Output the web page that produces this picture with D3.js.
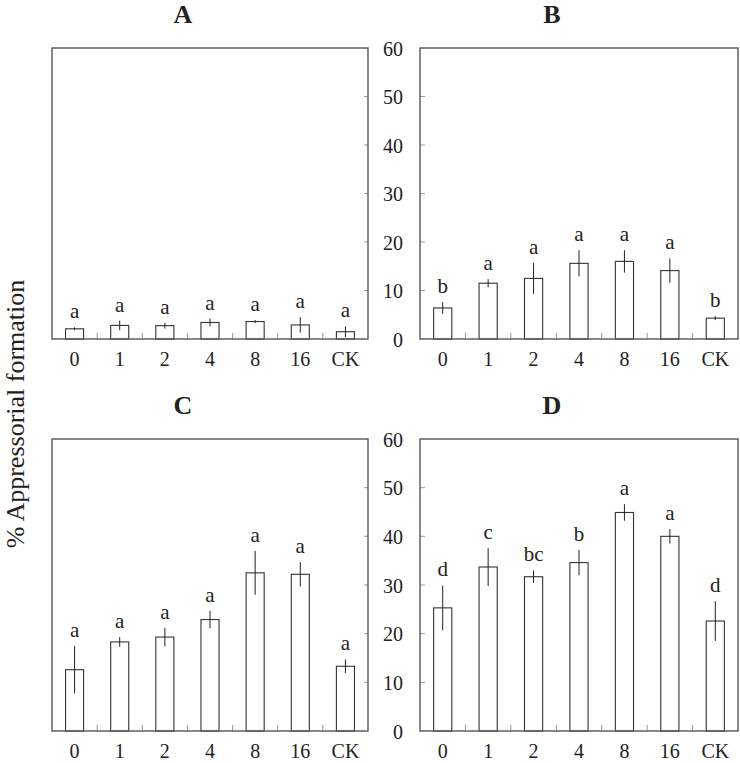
<!DOCTYPE html>
<html>
<head>
<meta charset="utf-8">
<script src="https://cdnjs.cloudflare.com/ajax/libs/d3/7.8.5/d3.min.js"></script>
<style>
  html, body { margin: 0; padding: 0; background: #fff; }
  svg { display: block; }
  text { font-family: "Liberation Serif", "Times New Roman", serif; fill: #222; }
</style>
</head>
<body>
<svg id="chart" width="740" height="763"></svg>
<script>
// ---- Data ----
const categories = ["0", "1", "2", "4", "8", "16", "CK"];
const yTicks = [0, 10, 20, 30, 40, 50, 60];
const panelTitles = ["A", "B", "C", "D"];

const valuesA = [2.1, 2.8, 2.75, 3.4, 3.6, 2.9, 1.5];
const errorsA = [0.3, 1.0, 0.6, 0.8, 0.3, 1.6, 1.1];
const lettersA = ["a", "a", "a", "a", "a", "a", "a"];

const valuesB = [6.4, 11.5, 12.5, 15.6, 16.0, 14.1, 4.3];
const errorsB = [1.2, 0.85, 3.2, 2.7, 2.3, 2.5, 0.4];
const lettersB = ["b", "a", "a", "a", "a", "a", "b"];

const valuesC = [12.6, 18.3, 19.3, 22.9, 32.5, 32.2, 13.3];
const errorsC = [4.9, 1.0, 1.9, 1.8, 4.5, 2.5, 1.4];
const lettersC = ["a", "a", "a", "a", "a", "a", "a"];

const valuesD = [25.3, 33.7, 31.7, 34.6, 44.9, 40.0, 22.6];
const errorsD = [4.6, 3.9, 1.3, 2.6, 1.7, 1.5, 4.1];
const lettersD = ["d", "c", "bc", "b", "a", "a", "d"];

const yLabel = "% Appressorial formation";

// ---- Layout ----
const svg = d3.select("#chart");
const panels = [
  { title: panelTitles[0], values: valuesA, errors: errorsA, letters: lettersA, x0: 52,  x1: 368, y0: 48,  y1: 339, showY: false },
  { title: panelTitles[1], values: valuesB, errors: errorsB, letters: lettersB, x0: 420, x1: 738, y0: 48,  y1: 339, showY: true },
  { title: panelTitles[2], values: valuesC, errors: errorsC, letters: lettersC, x0: 52,  x1: 368, y0: 439, y1: 731, showY: false },
  { title: panelTitles[3], values: valuesD, errors: errorsD, letters: lettersD, x0: 420, x1: 738, y0: 439, y1: 731, showY: true }
];

panels.forEach(p => {
  const g = svg.append("g");
  const x = d3.scaleBand().domain(categories).range([p.x0, p.x1]).paddingInner(0).paddingOuter(0);
  const y = d3.scaleLinear().domain([0, 60]).range([p.y1, p.y0]);
  const barW = x.bandwidth() * 0.4;

  // interior x ticks (between categories)
  const between = categories.slice(1).map(c => x(c));
  g.selectAll(".xt").data(between).enter().append("line")
    .attr("x1", d => d).attr("x2", d => d)
    .attr("y1", p.y1).attr("y2", p.y1 - 6)
    .attr("stroke", "#999").attr("stroke-width", 1);

  // y ticks: inward on left for shown axis, inward on right for others
  const tickVals = yTicks.slice(1, -1);
  g.selectAll(".yt").data(tickVals).enter().append("line")
    .attr("x1", p.showY ? p.x0 : p.x1)
    .attr("x2", p.showY ? p.x0 + 5 : p.x1 - 4)
    .attr("y1", d => y(d)).attr("y2", d => y(d))
    .attr("stroke", "#999").attr("stroke-width", 1);

  // bars
  g.selectAll(".bar").data(p.values).enter().append("rect")
    .attr("x", (d, i) => x(categories[i]) + (x.bandwidth() - barW) / 2)
    .attr("y", d => y(d))
    .attr("width", barW)
    .attr("height", d => p.y1 - y(d))
    .attr("fill", "#fff").attr("stroke", "#333").attr("stroke-width", 1.1);

  // error bars
  g.selectAll(".err").data(p.values).enter().append("line")
    .attr("x1", (d, i) => x(categories[i]) + x.bandwidth() / 2)
    .attr("x2", (d, i) => x(categories[i]) + x.bandwidth() / 2)
    .attr("y1", (d, i) => y(d + p.errors[i]))
    .attr("y2", (d, i) => y(Math.max(0, d - p.errors[i])))
    .attr("stroke", "#222").attr("stroke-width", 1);

  // letters
  g.selectAll(".let").data(p.values).enter().append("text")
    .attr("x", (d, i) => x(categories[i]) + x.bandwidth() / 2)
    .attr("y", (d, i) => y(d + p.errors[i]) - 9)
    .attr("text-anchor", "middle")
    .attr("font-size", 21)
    .text((d, i) => p.letters[i]);

  // frame
  g.append("rect")
    .attr("x", p.x0).attr("y", p.y0)
    .attr("width", p.x1 - p.x0).attr("height", p.y1 - p.y0)
    .attr("fill", "none").attr("stroke", "#555").attr("stroke-width", 1.4);

  // x labels
  const xAxis = d3.axisBottom(x).tickSize(0).tickPadding(0);
  const xa = g.append("g").attr("transform", `translate(0,${p.y1})`).call(xAxis);
  xa.select(".domain").remove();
  xa.selectAll("text")
    .attr("y", 27).attr("dy", 0)
    .attr("font-size", 20)
    .style("font-family", '"Liberation Serif", "Times New Roman", serif')
    .attr("fill", "#222");

  // y labels
  if (p.showY) {
    const yAxis = d3.axisLeft(y).tickValues(yTicks).tickSize(0).tickPadding(0);
    const ya = g.append("g").attr("transform", `translate(${p.x0},0)`).call(yAxis);
    ya.select(".domain").remove();
    ya.selectAll("text")
      .attr("x", -17).attr("dy", "0.35em")
      .attr("font-size", 20)
      .style("font-family", '"Liberation Serif", "Times New Roman", serif')
      .attr("fill", "#222");
  }

  // title
  g.append("text")
    .attr("x", (p.x0 + p.x1) / 2 - 27)
    .attr("y", p.y0 - 25)
    .attr("text-anchor", "middle")
    .attr("font-size", 26)
    .attr("font-weight", "bold")
    .attr("fill", "#111")
    .text(p.title);
});

// shared y-axis label
svg.append("text")
  .attr("transform", "translate(24,414) rotate(-90)")
  .attr("text-anchor", "middle")
  .attr("font-size", 26)
  .text(yLabel);
</script>
</body>
</html>
